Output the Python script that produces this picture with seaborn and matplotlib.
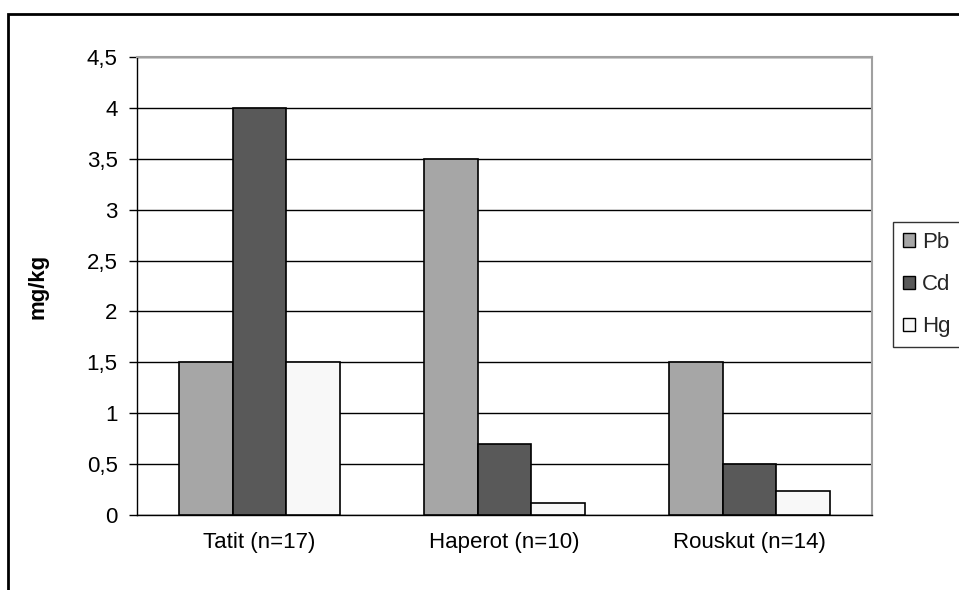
import matplotlib
matplotlib.use("Agg")
import matplotlib.pyplot as plt
import matplotlib.patches as mpatches
import seaborn as sns
import pandas as pd

categories = ["Tatit (n=17)", "Haperot (n=10)", "Rouskut (n=14)"]
metals = ["Pb", "Cd", "Hg"]
pb_values = [1.5, 3.5, 1.5]
cd_values = [4.0, 0.7, 0.5]
hg_values = [1.5, 0.12, 0.24]
y_ticks = [0, 0.5, 1, 1.5, 2, 2.5, 3, 3.5, 4, 4.5]
y_tick_labels = ["0", "0,5", "1", "1,5", "2", "2,5", "3", "3,5", "4", "4,5"]
colors = ["#A6A6A6", "#595959", "#F8F8F8"]

rows = []
for cat, p, c, h in zip(categories, pb_values, cd_values, hg_values):
    rows.append((cat, "Pb", p))
    rows.append((cat, "Cd", c))
    rows.append((cat, "Hg", h))
df = pd.DataFrame(rows, columns=["category", "metal", "value"])

sns.set_theme(style="white")
plt.rcParams["font.family"] = ["Liberation Sans", "DejaVu Sans"]

FS = 16
W, H = 959, 590
fig = plt.figure(figsize=(W / 100, H / 100), dpi=100)
ax = fig.add_axes([137 / W, 1 - 515 / H, (872 - 137) / W, (515 - 57) / H])

sns.barplot(data=df, x="category", y="value", hue="metal", hue_order=metals,
            palette=colors, order=categories, width=0.66, edgecolor="black",
            linewidth=1.2, saturation=1, ax=ax, legend=False, zorder=3)

ax.set_ylim(0, 4.5)
ax.set_xlim(-0.5, 2.5)
ax.set_yticks(y_ticks)
ax.set_yticklabels(y_tick_labels, fontsize=FS, color="black")
ax.yaxis.grid(True, color="black", linewidth=1)
ax.set_axisbelow(True)
ax.set_xlabel("")
ax.set_ylabel("mg/kg", fontsize=FS, fontweight="bold", color="black")
ax.yaxis.set_label_coords((48 - 137) / 735, 0.5)

ax.set_xticks([0, 1, 2])
ax.set_xticklabels(categories, fontsize=FS, color="black")
ax.set_xticks([-0.5, 0.5, 1.5, 2.5], minor=True)
ax.tick_params(axis="x", which="major", length=0, pad=12)
ax.tick_params(axis="x", which="minor", length=6, width=1, color="black", direction="out")
ax.tick_params(axis="y", length=6, width=1, color="black", direction="out", left=True, pad=8)

for side in ["left", "bottom"]:
    ax.spines[side].set_color("black")
    ax.spines[side].set_linewidth(1)
for side in ["top", "right"]:
    ax.spines[side].set_color("#A0A0A0")
    ax.spines[side].set_linewidth(1.5)

handles = [mpatches.Patch(facecolor=col, edgecolor="black", linewidth=1, label=m)
           for col, m in zip(colors, metals)]
leg = fig.legend(handles=handles, loc="upper left",
                 bbox_to_anchor=(893 / W, 1 - 222 / H), frameon=True,
                 fontsize=FS, handlelength=0.55, handleheight=0.55,
                 handletextpad=0.3, labelspacing=0.95, borderpad=0.45,
                 fancybox=False, borderaxespad=0)
leg.get_frame().set_edgecolor("black")
leg.get_frame().set_linewidth(1)

border = mpatches.Rectangle((8 / W, -0.1), 1.2, 1 - 14 / H + 0.1,
                            transform=fig.transFigure, fill=False,
                            edgecolor="black", linewidth=2, clip_on=False)
fig.add_artist(border)

fig.savefig("out.png", dpi=100, facecolor="white")
